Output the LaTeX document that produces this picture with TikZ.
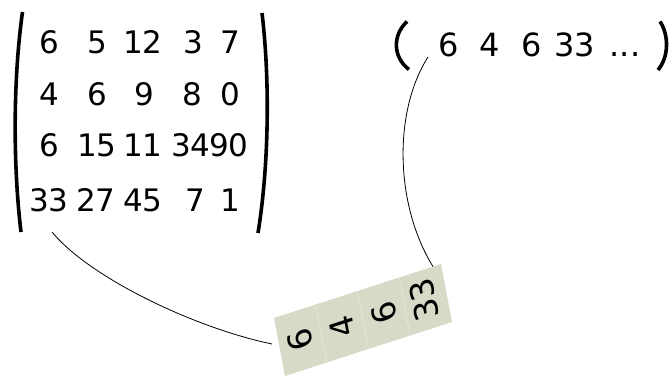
\documentclass[tikz,border=0pt]{standalone}
\usepackage{fontspec}
\setmainfont{DejaVu Sans}
\usetikzlibrary{calc}
\definecolor{cellfill}{RGB}{217,217,199}
\definecolor{celldiv}{RGB}{232,232,220}
\begin{document}
\begin{tikzpicture}[x=1pt,y=-1pt,
  mat/.style={font=\fontsize{31}{36}\selectfont, inner sep=0pt, anchor=base},
  vec/.style={font=\fontsize{32}{36}\selectfont, inner sep=0pt, anchor=base},
  cell/.style={font=\fontsize{33}{36}\selectfont, inner sep=0pt,
    cm={-0.1864,0.9831,-0.9515,-0.3077,(0,0)}},
  paren/.style={line width=3.6pt},
  link/.style={line width=0.8pt}]
\useasboundingbox (0,0) rectangle (672,377);

% matrix parentheses
\draw[paren] (22.5,12) .. controls (13,80) and (13,165) .. (21,232);
\draw[paren] (262,13) .. controls (270,80) and (269,165) .. (258,233);

% matrix entries
\node[mat] (m11) at (49,53.3) {6};
\node[mat] (m12) at (97,53.3) {5};
\node[mat] (m13) at (143,53.3) {12};
\node[mat] (m14) at (193,53.3) {3};
\node[mat] (m15) at (230,53.3) {7};
\node[mat] (m21) at (49,106) {4};
\node[mat] (m22) at (97,106) {6};
\node[mat] (m23) at (144,106) {9};
\node[mat] (m24) at (192,106) {8};
\node[mat] (m25) at (230,106) {0};
\node[mat] (m31) at (49,157) {6};
\node[mat] (m32) at (97,157) {15};
\node[mat] (m33) at (143,157) {11};
\node[mat] (m34) at (191,157) {34};
\node[mat] (m35) at (229,157) {90};
\node[mat] (m41) at (49,211.5) {33};
\node[mat] (m42) at (96,211.5) {27};
\node[mat] (m43) at (143,211.5) {45};
\node[mat] (m44) at (195,211.5) {7};
\node[mat] (m45) at (230,211.5) {1};

% vector
\draw[paren] (407,21.5) .. controls (392.5,35) and (392.5,57) .. (409,69.5);
\draw[paren] (660,21.5) .. controls (669,35) and (669,57) .. (658,70);
\node[vec] (v1) at (448.5,57) {6};
\node[vec] (v2) at (490,57) {4};
\node[vec] (v3) at (531.5,57) {6};
\node[vec] (v4) at (575,57) {33};
\node[vec] (v5) at (625,57) {...};

% memory block
\coordinate (TL) at (274,318);
\coordinate (TR) at (441,264);
\coordinate (BR) at (452,322);
\coordinate (BL) at (285,376);
\fill[cellfill] (TL) -- (TR) -- (BR) -- (BL) -- cycle;
\foreach \k in {1,2,3}
  \draw[celldiv, line width=0.6pt] ($(TL)!\k/4!(TR)$) -- ($(BL)!\k/4!(BR)$);
\node[cell] (b1) at (300.4,340.3) {6};
\node[cell] (b2) at (342.1,326.8) {4};
\node[cell] (b3) at (383.9,313.3) {6};
\node[cell] (b4) at (424.0,299.8) {33};

% connectors
\coordinate (s1) at (52,232);
\coordinate (e1) at (272,344);
\draw[link] (s1) .. controls (90,278) and (195,328) .. (e1);
\coordinate (s2) at (428,57);
\coordinate (e2) at ($(TL)!0.952!(TR)$);
\draw[link] (s2) .. controls (393,112) and (395,205) .. (e2);
\end{tikzpicture}
\end{document}
